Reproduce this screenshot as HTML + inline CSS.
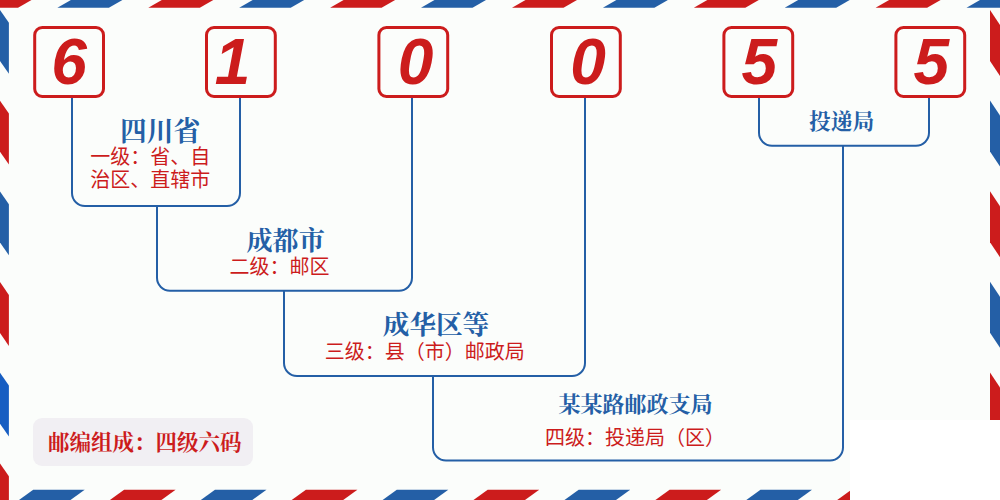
<!DOCTYPE html>
<html><head><meta charset="utf-8"><title>610055</title>
<style>html,body{margin:0;padding:0;overflow:hidden;background:#fbfdfb;font-family:"Liberation Sans",sans-serif;}svg{display:block}</style></head>
<body>
<svg width="1000" height="500" viewBox="0 0 1000 500" style="display:block">
<rect width="1000" height="500" fill="#fbfdfb"/>
<polygon fill="#cc1c1c" points="-20.0,0 31.5,0 18.0,7.8 -33.5,7.8"/>
<polygon fill="#245fa6" points="70.9,0 122.4,0 108.9,7.8 57.4,7.8"/>
<polygon fill="#cc1c1c" points="161.8,0 213.3,0 199.8,7.8 148.3,7.8"/>
<polygon fill="#245fa6" points="252.7,0 304.2,0 290.7,7.8 239.2,7.8"/>
<polygon fill="#cc1c1c" points="343.6,0 395.1,0 381.6,7.8 330.1,7.8"/>
<polygon fill="#245fa6" points="434.5,0 486.0,0 472.5,7.8 421.0,7.8"/>
<polygon fill="#cc1c1c" points="525.5,0 577.0,0 563.5,7.8 512.0,7.8"/>
<polygon fill="#245fa6" points="616.4,0 667.9,0 654.4,7.8 602.9,7.8"/>
<polygon fill="#cc1c1c" points="707.3,0 758.8,0 745.3,7.8 693.8,7.8"/>
<polygon fill="#245fa6" points="798.2,0 849.7,0 836.2,7.8 784.7,7.8"/>
<polygon fill="#cc1c1c" points="889.1,0 940.6,0 927.1,7.8 875.6,7.8"/>
<polygon fill="#245fa6" points="980.0,0 1031.5,0 1018.0,7.8 966.5,7.8"/>
<polygon fill="#cc1c1c" points="-57.7,489.8 -6.2,489.8 -20.4,500 -71.9,500"/>
<polygon fill="#245fa6" points="33.2,489.8 84.7,489.8 70.5,500 19.0,500"/>
<polygon fill="#cc1c1c" points="124.1,489.8 175.6,489.8 161.4,500 109.9,500"/>
<polygon fill="#245fa6" points="215.0,489.8 266.5,489.8 252.3,500 200.8,500"/>
<polygon fill="#cc1c1c" points="305.9,489.8 357.4,489.8 343.2,500 291.7,500"/>
<polygon fill="#245fa6" points="396.8,489.8 448.3,489.8 434.1,500 382.6,500"/>
<polygon fill="#cc1c1c" points="487.7,489.8 539.2,489.8 525.0,500 473.5,500"/>
<polygon fill="#245fa6" points="578.7,489.8 630.2,489.8 616.0,500 564.5,500"/>
<polygon fill="#cc1c1c" points="669.6,489.8 721.1,489.8 706.9,500 655.4,500"/>
<polygon fill="#245fa6" points="760.5,489.8 812.0,489.8 797.8,500 746.3,500"/>
<polygon fill="#cc1c1c" points="851.4,489.8 902.9,489.8 888.7,500 837.2,500"/>
<polygon fill="#245fa6" points="942.3,489.8 993.8,489.8 979.6,500 928.1,500"/>
<polygon fill="#cc1c1c" points="0,-80.7 8.9,-67.9 8.9,-16.9 0,-29.7"/>
<polygon fill="#245fa6" points="0,10.0 8.9,22.8 8.9,73.8 0,61.0"/>
<polygon fill="#cc1c1c" points="0,100.7 8.9,113.5 8.9,164.5 0,151.7"/>
<polygon fill="#245fa6" points="0,191.4 8.9,204.2 8.9,255.2 0,242.4"/>
<polygon fill="#cc1c1c" points="0,282.1 8.9,294.9 8.9,345.9 0,333.1"/>
<polygon fill="#175ec2" points="0,372.8 8.9,385.6 8.9,436.6 0,423.8"/>
<polygon fill="#cc1c1c" points="0,463.5 8.9,476.3 8.9,527.3 0,514.5"/>
<polygon fill="#245fa6" points="990,-80.6 1000,-65.6 1000,-14.6 990,-29.6"/>
<polygon fill="#cc1c1c" points="990,10.0 1000,25.0 1000,76.0 990,61.0"/>
<polygon fill="#245fa6" points="990,100.6 1000,115.6 1000,166.6 990,151.6"/>
<polygon fill="#cc1c1c" points="990,191.2 1000,206.2 1000,257.2 990,242.2"/>
<polygon fill="#245fa6" points="990,281.8 1000,296.8 1000,347.8 990,332.8"/>
<polygon fill="#cc1c1c" points="990,372.4 1000,387.4 1000,438.4 990,423.4"/>
<polygon fill="#245fa6" points="990,463.0 1000,478.0 1000,529.0 990,514.0"/>
<rect x="850" y="420" width="150" height="80" fill="#ffffff"/>
<rect x="33" y="418" width="220" height="48" rx="9" fill="#f1eff3"/>
<path d="M72,97 V193.0 A13,13 0 0 0 85,206.0 H227 A13,13 0 0 0 240,193.0 V97" fill="none" stroke="#245fa6" stroke-width="2"/>
<path d="M157,206.0 V277.8 A13,13 0 0 0 170,290.8 H399 A13,13 0 0 0 412,277.8 V97" fill="none" stroke="#245fa6" stroke-width="2"/>
<path d="M284,290.8 V363.0 A13,13 0 0 0 297,376.0 H572 A13,13 0 0 0 585,363.0 V97" fill="none" stroke="#245fa6" stroke-width="2"/>
<path d="M759,97 V132.8 A13,13 0 0 0 772,145.8 H916 A13,13 0 0 0 929,132.8 V97" fill="none" stroke="#245fa6" stroke-width="2"/>
<path d="M433,376 V447.5 A13,13 0 0 0 446,460.5 H830 A13,13 0 0 0 843,447.5 V145.8" fill="none" stroke="#245fa6" stroke-width="2"/>
<rect x="34.7" y="27.5" width="68.8" height="69" rx="7.5" fill="#fbfdfb" stroke="#cc1c1c" stroke-width="3"/>
<rect x="206.5" y="27.5" width="68.8" height="69" rx="7.5" fill="#fbfdfb" stroke="#cc1c1c" stroke-width="3"/>
<rect x="378.9" y="27.5" width="68.8" height="69" rx="7.5" fill="#fbfdfb" stroke="#cc1c1c" stroke-width="3"/>
<rect x="551.5" y="27.5" width="68.8" height="69" rx="7.5" fill="#fbfdfb" stroke="#cc1c1c" stroke-width="3"/>
<rect x="723.9" y="27.5" width="68.8" height="69" rx="7.5" fill="#fbfdfb" stroke="#cc1c1c" stroke-width="3"/>
<rect x="895.9" y="27.5" width="68.8" height="69" rx="7.5" fill="#fbfdfb" stroke="#cc1c1c" stroke-width="3"/>
<text x="69.1" y="84" font-size="64" font-weight="bold" font-style="italic" text-anchor="middle" fill="#cc1c1c" font-family="'Liberation Sans', sans-serif">6</text>
<text x="232.5" y="84" font-size="64" font-weight="bold" font-style="italic" text-anchor="middle" fill="#cc1c1c" font-family="'Liberation Sans', sans-serif">1</text>
<text x="415.5" y="84" font-size="64" font-weight="bold" font-style="italic" text-anchor="middle" fill="#cc1c1c" font-family="'Liberation Sans', sans-serif">0</text>
<text x="588.1" y="84" font-size="64" font-weight="bold" font-style="italic" text-anchor="middle" fill="#cc1c1c" font-family="'Liberation Sans', sans-serif">0</text>
<text x="759.4" y="84" font-size="64" font-weight="bold" font-style="italic" text-anchor="middle" fill="#cc1c1c" font-family="'Liberation Sans', sans-serif">5</text>
<text x="931.4" y="84" font-size="64" font-weight="bold" font-style="italic" text-anchor="middle" fill="#cc1c1c" font-family="'Liberation Sans', sans-serif">5</text>
<text x="120.0" y="140.6" font-size="26.8" font-weight="bold" fill="#245fa6" font-family="'Liberation Serif', 'Noto Serif CJK SC', serif">四川省</text>
<text x="90.3" y="163.6" font-size="20" fill="#cc1c1c" font-family="'Liberation Sans', 'Noto Sans CJK SC', sans-serif">一级：省、自</text>
<text x="90.3" y="187.2" font-size="20" fill="#cc1c1c" font-family="'Liberation Sans', 'Noto Sans CJK SC', sans-serif">治区、直辖市</text>
<text x="246.5" y="249.8" font-size="26.1" font-weight="bold" fill="#245fa6" font-family="'Liberation Serif', 'Noto Serif CJK SC', serif">成都市</text>
<text x="229.6" y="274.4" font-size="20" fill="#cc1c1c" font-family="'Liberation Sans', 'Noto Sans CJK SC', sans-serif">二级：邮区</text>
<text x="382.8" y="334.2" font-size="26.6" font-weight="bold" fill="#245fa6" font-family="'Liberation Serif', 'Noto Serif CJK SC', serif">成华区等</text>
<text x="324.8" y="358.8" font-size="20" fill="#cc1c1c" font-family="'Liberation Sans', 'Noto Sans CJK SC', sans-serif">三级：县（市）邮政局</text>
<text x="558.6" y="411.8" font-size="22.0" font-weight="bold" fill="#245fa6" font-family="'Liberation Serif', 'Noto Serif CJK SC', serif">某某路邮政支局</text>
<text x="545.0" y="445.1" font-size="20" fill="#cc1c1c" font-family="'Liberation Sans', 'Noto Sans CJK SC', sans-serif">四级：投递局（区）</text>
<text x="809.0" y="129.3" font-size="21.7" font-weight="bold" fill="#245fa6" font-family="'Liberation Serif', 'Noto Serif CJK SC', serif">投递局</text>
<text x="48.0" y="450.4" font-size="21.5" font-weight="bold" fill="#cc1c1c" font-family="'Liberation Serif', 'Noto Serif CJK SC', serif">邮编组成：四级六码</text>
</svg>
</body></html>
